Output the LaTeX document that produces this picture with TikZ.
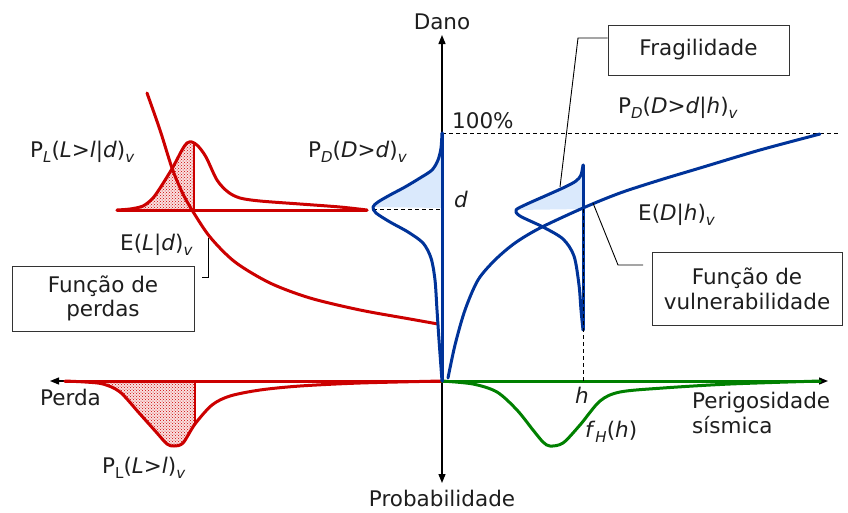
\documentclass[tikz,border=0pt]{standalone}
\usepackage{fontspec}
\setmainfont{DejaVu Sans}
\usetikzlibrary{arrows.meta,patterns}
\definecolor{cred}{RGB}{204,0,0}
\definecolor{cblue}{RGB}{0,51,153}
\definecolor{cgreen}{RGB}{0,128,0}
\definecolor{cfill}{RGB}{218,233,252}
\definecolor{ctext}{RGB}{30,30,30}
\newcommand\sbs[1]{\raisebox{-0.45ex}{\fontsize{15}{15}\selectfont #1}}
\begin{document}
\begin{tikzpicture}[x=1pt,y=-1pt,
  font=\fontsize{21.5}{25}\selectfont,
  lbl/.style={inner sep=0pt,text=ctext},
  box/.style={draw=black!80,line width=0.9pt,align=center,inner sep=0pt,text=ctext},
  axis/.style={line width=1.3pt,-{Triangle[length=9pt,width=7pt]}},
  thk/.style={line width=3pt,line join=round,line cap=round},
  leader/.style={line width=0.9pt},
  redfill/.style={pattern=crosshatch dots,pattern color=cred},
  dsh/.style={line width=0.8pt,dash pattern=on 4pt off 3pt}]
\useasboundingbox (0,0) rectangle (848,512);

% ---------- fills ----------
\fill[cred!12] plot[smooth] coordinates {(117,210)(130,209)(143,206)(153,198)(162,185)(173,167)(182,150)(187,143)(192,142)(194,143)} -- (194,210) -- cycle;
\fill[redfill] plot[smooth] coordinates {(117,210)(130,209)(143,206)(153,198)(162,185)(173,167)(182,150)(187,143)(192,142)(194,143)} -- (194,210) -- cycle;
\fill[cred!12] plot[smooth] coordinates {(65,381)(85,382)(103,384)(120,392)(140,414)(157,433)(167,444)(174,446)(183,443)(195,424)} -- (195,381) -- cycle;
\fill[redfill] plot[smooth] coordinates {(65,381)(85,382)(103,384)(120,392)(140,414)(157,433)(167,444)(174,446)(183,443)(195,424)} -- (195,381) -- cycle;
\fill[cfill] plot[smooth] coordinates {(442,133)(441,148)(438,160)(432,170)(420,178)(405,187)(390,195)(378,202)(373,207)} -- (442,208) -- cycle;
\fill[cfill] plot[smooth] coordinates {(583,165)(581,175)(576,181)(565,187)(545,196)(527,204)(516,210)} -- (583,209) -- cycle;

% ---------- axes ----------
\draw[axis] (442,381) -- (442,35);
\draw[axis] (442,381) -- (442,483);
\draw[axis] (442,381) -- (50,381);
\draw[axis] (442,381) -- (828,381);

% ---------- dashed guides ----------
\draw[dsh] (442,133) -- (840,133);
\draw[dsh] (373,209) -- (442,209);

% ---------- red curves ----------
\draw[thk,cred] (117,210) -- (367,210);
\draw[thk,cred] plot[smooth] coordinates {(117,210)(130,209)(143,206)(153,198)(162,185)(173,167)(182,150)(187,143)(192,142)(198,146)(206,157)(217,180)(228,192)(240,198)(260,201)(300,204)(340,207)(367,210)};
\draw[line width=1.5pt,cred] (194,143) -- (194,210);
\draw[thk,cred] plot[smooth] coordinates {(147,93)(160,130)(172,168)(182,192)(192,210)(210,237)(235,262)(270,283)(310,298)(360,310)(410,319)(438,324)};
\draw[thk,cred] (65,381) -- (442,381);
\draw[thk,cred] plot[smooth] coordinates {(65,381)(85,382)(103,384)(120,392)(140,414)(157,433)(167,444)(174,446)(183,443)(195,424)(212,405)(230,396)(260,390)(300,386)(360,383)(442,381)};
\draw[line width=1.5pt,cred] (195,424) -- (195,381);

% ---------- green ----------
\draw[thk,cgreen] (442,381) -- (820,381);
\draw[thk,cgreen] plot[smooth] coordinates {(442,381)(473,384)(497,392)(517,410)(533,430)(543,442)(550,446)(563,443)(580,425)(600,401)(620,392)(663,388)(730,384)(820,381)};

% ---------- blue ----------
\draw[thk,cblue] (442,133) -- (442,381);
\draw[thk,cblue] plot[smooth] coordinates {(442,133)(441,148)(438,160)(432,170)(420,178)(405,187)(390,195)(378,202)(373,207)(376,213)(390,222)(408,232)(423,243)(431,258)(435,280)(437,310)(439,340)(442,381)};
\draw[thk,cblue] (583,165) -- (583,330);
\draw[thk,cblue] plot[smooth] coordinates {(583,165)(581,175)(576,181)(565,187)(545,196)(527,204)(516,210)(520,216)(543,227)(563,239)(574,256)(579,285)(581,310)(583,330)};
\draw[thk,cblue] plot[smooth] coordinates {(448,378)(455,345)(465,310)(478,280)(495,260)(515,243)(540,228)(583,208)(620,193)(660,180)(700,168)(760,150)(820,134)};
\draw[dsh] (583,209) -- (583,381);

% ---------- texts ----------
\node[lbl,anchor=base] (dano) at (442,29) {Dano};
\node[lbl,anchor=base] (prob) at (442,506) {Probabilidade};
\node[lbl,anchor=base west] (cem) at (452,128) {100\%};
\node[lbl,anchor=base] (dd) at (461,207) {\textit{d}};
\node[lbl,anchor=base west] (perda) at (40,405) {Perda};
\node[lbl,anchor=base west,align=left] (perig) at (692,433) {Perigosidade\\sísmica};
\node[lbl,anchor=base] (hh) at (582,403) {\textit{h}};
\node[lbl,anchor=base west] (fh) at (585,437) {\textit{f}\sbs{\textit{H}}(\textit{h})};
\node[lbl,anchor=base west] (pll) at (102,473) {P\sbs{L}(\textit{L}>\textit{l})\sbs{\textit{v}}};
\node[lbl,anchor=base west] (pld) at (30,157) {P\sbs{\textit{L}}(\textit{L}>\textit{l}|\textit{d})\sbs{\textit{v}}};
\node[lbl,anchor=base west] (eld) at (120,250) {E(\textit{L}|\textit{d})\sbs{\textit{v}}};
\node[lbl,anchor=base west] (pdd) at (308,157) {P\sbs{\textit{D}}(\textit{D}>\textit{d})\sbs{\textit{v}}};
\node[lbl,anchor=base west] (pddh) at (618,113) {P\sbs{\textit{D}}(\textit{D}>\textit{d}|\textit{h})\sbs{\textit{v}}};
\node[lbl,anchor=base west] (edh) at (638,220) {E(\textit{D}|\textit{h})\sbs{\textit{v}}};

% ---------- boxes ----------
\node[box,minimum width=181pt,minimum height=50pt] (frag) at (698.5,50) {Fragilidade};
\node[box,minimum width=182pt,minimum height=65pt] (perdas) at (103,298.5) {Função de\\[-1pt]perdas};
\node[box,minimum width=190pt,minimum height=73pt] (vuln) at (747,288.5) {Função de\\[0pt]vulnerabilidade};

% ---------- leaders ----------
\coordinate (fragL) at (frag.west |- 0,38);
\coordinate (fragT) at (560,187);
\draw[leader] (fragL) -- (578,38) -- (fragT);
\coordinate (vulnT) at (593,203);
\coordinate (vulnL) at (643,265);
\draw[leader] (vulnT) -- (618,265) -- (vulnL);
\coordinate (eldT) at (208,238);
\coordinate (eldB) at (202,277);
\draw[leader] (eldT) -- (208,277) -- (eldB);
\end{tikzpicture}
\end{document}
